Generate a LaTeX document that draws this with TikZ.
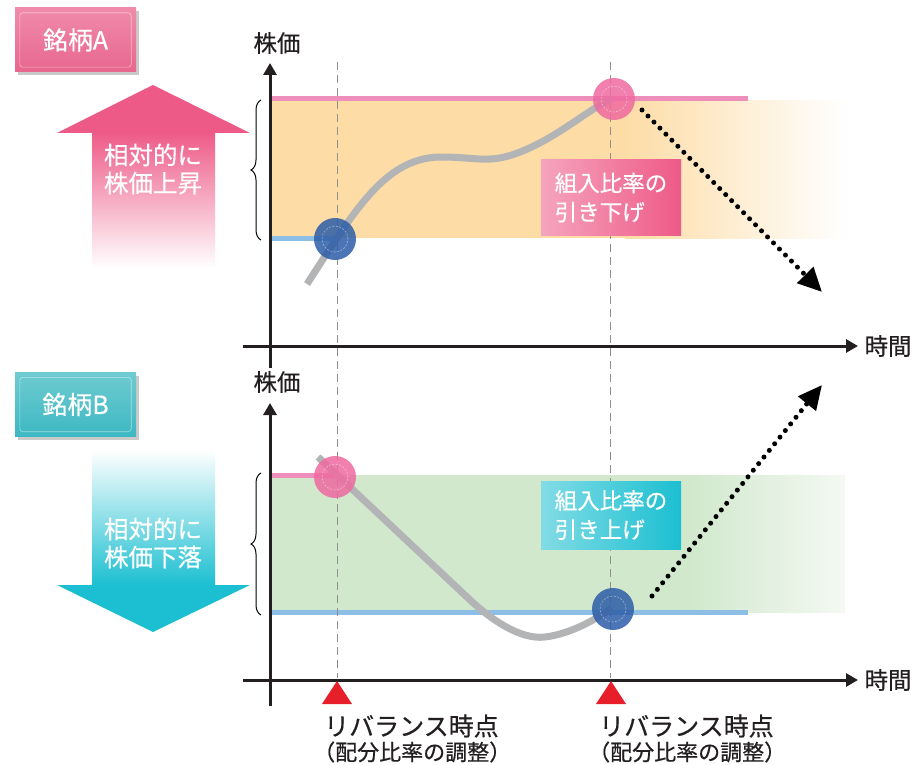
\documentclass[tikz,border=0pt]{standalone}
\usepackage{fontspec}
\setmainfont{Noto Sans CJK JP}[FakeBold=0.5]
\usetikzlibrary{arrows.meta,decorations.pathreplacing,shadows}
\definecolor{pinkL}{HTML}{EE8FBB}
\definecolor{blueL}{HTML}{8DBFE6}
\definecolor{bandO}{HTML}{FDDCA6}
\definecolor{bandG}{HTML}{D1E8CD}
\definecolor{curveC}{HTML}{B3B4B6}
\definecolor{blueC}{HTML}{2D5DA8}
\definecolor{pinkC}{HTML}{EE6AA0}
\definecolor{tagA}{HTML}{E8668F}
\definecolor{tagAl}{HTML}{F08BAB}
\definecolor{tagB}{HTML}{3DB8C2}
\definecolor{tagBl}{HTML}{6ECBD1}
\definecolor{pinkArr}{HTML}{EE5A88}
\definecolor{tealArr}{HTML}{1BBFD1}
\definecolor{redT}{HTML}{E71F2A}
\definecolor{vgray}{HTML}{8F8F8F}
\definecolor{axisC}{HTML}{231F20}
\begin{document}
\begin{tikzpicture}[x=1pt,y=-1pt,
  tagbox/.style={minimum width=121pt,minimum height=64pt,inner sep=0pt,text=white,
    font=\fontsize{25}{28}\selectfont,
    drop shadow={shadow xshift=3pt,shadow yshift=-3pt,opacity=0.35,fill=black!60}},
  rbox/.style={minimum width=140pt,inner sep=0pt,text=white,align=left,
    font=\fontsize{22.5}{29}\selectfont},
  arrtext/.style={text=white,align=center,font=\fontsize{24.5}{28}\selectfont},
  axislabel/.style={font=\fontsize{23.5}{26}\selectfont,text=axisC},
  axis/.style={draw=axisC,line width=3pt,-{Triangle[length=12pt,width=13pt]}},
  vdash/.style={draw=vgray,line width=1pt,dash pattern=on 8pt off 5pt},
  pline/.style={draw=pinkL,line width=5pt},
  bline/.style={draw=blueL,line width=5pt},
  curve/.style={draw=curveC,line width=7pt},
  dot/.style={circle,minimum size=42pt,inner sep=0pt,fill opacity=0.85},
  ring/.style={draw=white,draw opacity=0.45,line width=0.6pt,dash pattern=on 2pt off 1.5pt},
  dotarrow/.style={draw=black,line width=5pt,line cap=round,dash pattern=on 0pt off 8.5pt,
    -{Triangle[length=24pt,width=22pt]}},
  brace/.style={draw=black,line width=1pt,decorate,decoration={brace,amplitude=10pt}},
  rtri/.style={fill=redT},
  rlab1/.style={anchor=west,inner sep=0pt,font=\fontsize{25}{28}\selectfont,text=axisC},
  rlab2/.style={anchor=west,inner sep=0pt,font=\fontsize{22}{24}\selectfont,text=axisC}
]
\useasboundingbox (0,0) rectangle (916,765);

% ---------- left tags ----------
\node[tagbox,top color=tagAl,bottom color=tagA] (tagA) at (75.5,40) {銘柄A};
\draw[white,opacity=0.5,line width=0.6pt,rounded corners=3pt] ([xshift=5pt,yshift=5pt]tagA.south west) rectangle ([xshift=-5pt,yshift=-5pt]tagA.north east);
\node[tagbox,top color=tagBl,bottom color=tagB] (tagB) at (75.5,404.5) {銘柄B};
\draw[white,opacity=0.5,line width=0.6pt,rounded corners=3pt] ([xshift=5pt,yshift=5pt]tagB.south west) rectangle ([xshift=-5pt,yshift=-5pt]tagB.north east);

% ---------- big arrows ----------
\shade[top color=pinkArr,middle color=pinkArr!65!white,bottom color=white] (92,132) rectangle (215,268);
\fill[pinkArr] (153,85) -- (250,133) -- (57,133) -- cycle;
\node[arrtext] (upTxt) at (153,169) {相対的に\\株価上昇};

\shade[top color=white,middle color=tealArr!50!white,bottom color=tealArr] (92,450) rectangle (215,586);
\fill[tealArr] (57,585) -- (250,585) -- (153,632) -- cycle;
\node[arrtext] (dnTxt) at (153,543) {相対的に\\株価下落};

% ---------- bands ----------
\fill[bandO] (270,101) rectangle (626,238);
\shade[left color=bandO,right color=white] (625,101) rectangle (845,238);
\fill[bandG] (270,475) rectangle (690,612);
\shade[left color=bandG,right color=bandG!25!white] (689,475) rectangle (845,612);

% level lines
\draw[pline] (270,99) -- (748,99);
\draw[bline] (270,238) -- (336,238);
\draw[pline] (270,475) -- (337,475);
\draw[bline] (270,612) -- (748,612);

% dashed verticals
\coordinate (v1t) at (337,62);
\coordinate (v1b) at (337,678);
\coordinate (v2t) at (610,62);
\coordinate (v2b) at (610,678);
\draw[vdash] (v1t) -- (v1b);
\draw[vdash] (v2t) -- (v2b);

% braces
\draw[brace] (261,240) -- (261,100);
\draw[brace] (261,615) -- (261,473);

% axes
\coordinate (ayA0) at (270,368);
\coordinate (ayA1) at (270,63);
\coordinate (axA0) at (243,346);
\coordinate (axA1) at (858,346);
\draw[axis] (ayA0) -- (ayA1);
\draw[axis] (axA0) -- (axA1);
\node[axislabel] (yA) at (277,43) {株価};
\node[axislabel,anchor=west] (tA) at (861,346) {時間};

\coordinate (ayB0) at (270,706);
\coordinate (ayB1) at (270,403);
\coordinate (axB0) at (243,680);
\coordinate (axB1) at (858,680);
\draw[axis] (ayB0) -- (ayB1);
\draw[axis] (axB0) -- (axB1);
\node[axislabel] (yB) at (277,382) {株価};
\node[axislabel,anchor=west] (tB) at (861,680) {時間};

% ---------- curves ----------
\coordinate (cA0) at (307,284);
\coordinate (cA1) at (440,157);
\coordinate (cA2) at (525,150);
\coordinate (cA3) at (611,99);
\draw[curve] (cA0) .. controls (355,210) and (385,158) .. (cA1)
  .. controls (480,157) and (490,165) .. (cA2)
  .. controls (560,135) and (585,112) .. (cA3);

\coordinate (cB0) at (318,457);
\coordinate (cB1) at (468,598);
\coordinate (cB2) at (545,637);
\coordinate (cB3) at (612,608);
\draw[curve] (cB0) -- (cB1) .. controls (490,619) and (520,640) .. (cB2)
  .. controls (570,634) and (595,620) .. (cB3);

% ---------- circles ----------
\node[dot,fill=blueC] (bA) at (335,239) {};
\draw[ring] (bA) circle (13pt);
\node[dot,fill=pinkC] (pA) at (614,99) {};
\draw[ring] (pA) circle (13pt);
\node[dot,fill=pinkC] (pB) at (335,477) {};
\draw[ring] (pB) circle (13pt);
\node[dot,fill=blueC] (bB) at (613,609) {};
\draw[ring] (bB) circle (13pt);

% ---------- boxes ----------
\node[rbox,minimum height=75pt,left color=pinkArr!55!white,right color=pinkArr] (boxA) at (611,197.5) {組入比率の\\引き下げ};
\node[rbox,minimum height=68pt,left color=tealArr!55!white,right color=tealArr] (boxB) at (611,515) {組入比率の\\引き上げ};

% ---------- dotted arrows ----------
\coordinate (dA0) at (642,110);
\coordinate (dA1) at (822,292);
\draw[dotarrow] (dA0) -- (dA1);
\coordinate (dB0) at (652,596);
\coordinate (dB1) at (822,385);
\draw[dotarrow] (dB0) -- (dB1);

% ---------- rebalance markers ----------
\fill[rtri] (337,681) -- (352,704) -- (322,704) -- cycle;
\fill[rtri] (611,681) -- (626,704) -- (596,704) -- cycle;
\node[rlab1] (r1a) at (324,726) {リバランス時点};
\node[rlab2] (r1b) at (313,752) {（配分比率の調整）};
\node[rlab1] (r2a) at (599,726) {リバランス時点};
\node[rlab2] (r2b) at (588,752) {（配分比率の調整）};
\end{tikzpicture}
\end{document}
